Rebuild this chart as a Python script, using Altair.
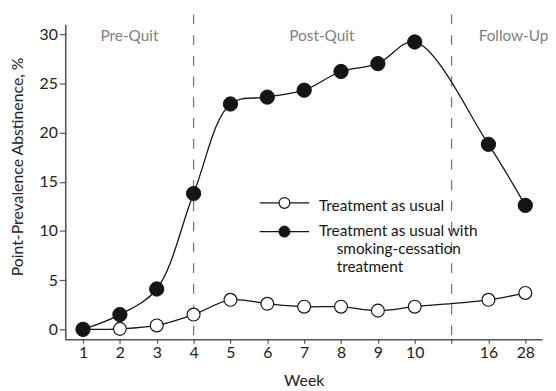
import json
import altair as alt
import pandas as pd

# ---------------- data ----------------
WEEKS = ["1", "2", "3", "4", "5", "6", "7", "8", "9", "10", "16", "28"]
TAU = [0.0, 0.05, 0.4, 1.5, 3.0, 2.6, 2.3, 2.3, 1.9, 2.3, 3.0, 3.7]
TAU_SCT = [0.0, 1.5, 4.1, 13.8, 22.9, 23.6, 24.3, 26.2, 27.0, 29.2, 18.8, 12.6]
SERIES = ["Treatment as usual",
          "Treatment as usual with smoking-cessation treatment"]
PHASES = ["Pre-Quit", "Post-Quit", "Follow-Up"]
PHASE_POS = [2.26, 7.48, 12.68]
PHASE_BREAKS = [4, 11]
Y_TICKS = [0, 5, 10, 15, 20, 25, 30]

# weekly slots 1-10, one empty slot for the phase break, then weeks 16 and 28
slots = [i + 1 if i < 10 else i + 2 for i in range(len(WEEKS))]
slot_labels = [""] * (max(slots) + 1)
for s, w in zip(slots, WEEKS):
    slot_labels[s] = w

rows = []
for name, vals in zip(SERIES, [TAU, TAU_SCT]):
    for s, w, v in zip(slots, WEEKS, vals):
        rows.append({"series": name, "slot": s, "week": w, "value": v})
df = pd.DataFrame(rows)

phase_df = pd.DataFrame({"phase": PHASES, "pos": PHASE_POS})
break_df = pd.DataFrame({"pos": PHASE_BREAKS})

FONT = "Lato"
INK = "#151515"

x_scale = alt.Scale(domain=[0.518, 13.455], nice=False, zero=False)
y_scale = alt.Scale(domain=[-1, 31], nice=False, zero=False)

x_axis = alt.Axis(
    values=list(range(1, 14)),
    labelExpr=json.dumps(slot_labels) + "[datum.value]",
    title="Week", titleY=47, titleBaseline="alphabetic",
    tickSize=4, labelPadding=2, grid=False,
    labelFlush=False, labelOverlap=False,
)
y_axis = alt.Axis(
    values=Y_TICKS, title="Point-Prevalence Abstinence, %",
    titleX=-43, titleY=144, titleAngle=-90, titleAlign="center",
    titleBaseline="alphabetic", tickSize=6, labelPadding=2, grid=False,
)

breaks = alt.Chart(break_df).mark_rule(
    color="#777777", strokeWidth=1.3, strokeDash=[10, 11], clip=False
).encode(
    x=alt.X("pos:Q", scale=x_scale, axis=x_axis),
    y=alt.Y(datum=32, scale=y_scale, axis=y_axis),
    y2=alt.Y2(datum=-1.4),
)

lines = alt.Chart(df).mark_line(
    interpolate="catmull-rom", color=INK, strokeWidth=1.3
).encode(
    x=alt.X("slot:Q", scale=x_scale, axis=x_axis),
    y=alt.Y("value:Q", scale=y_scale, axis=y_axis),
    detail="series:N",
)

points_open = alt.Chart(df[df.series == SERIES[0]]).mark_point(
    shape="circle", filled=True, fill="white", stroke=INK,
    strokeWidth=1.2, size=170, opacity=1
).encode(
    x=alt.X("slot:Q", scale=x_scale, axis=x_axis),
    y=alt.Y("value:Q", scale=y_scale, axis=y_axis),
)

points_filled = alt.Chart(df[df.series == SERIES[1]]).mark_point(
    shape="circle", filled=True, fill=INK, stroke=INK,
    strokeWidth=1, size=210, opacity=1
).encode(
    x=alt.X("slot:Q", scale=x_scale, axis=x_axis),
    y=alt.Y("value:Q", scale=y_scale, axis=y_axis),
)

phase_text = alt.Chart(phase_df).mark_text(
    font=FONT, fontSize=15.5, color="#808080", baseline="alphabetic",
    align="center"
).encode(
    x=alt.X("pos:Q", scale=x_scale, axis=x_axis),
    y=alt.Y(datum=29.25, scale=y_scale, axis=y_axis),
    text="phase:N",
)

# ---------------- hand-made legend ----------------
one = pd.DataFrame({"a": [0]})
words = SERIES[1].split(" ")
leg_first = " ".join(words[:4])
leg_rest = words[4:]

leg_layers = []
for i, (ly, fill, size, sw) in enumerate([(181, "white", 120, 1.2), (210, INK, 125, 1)]):
    leg_layers.append(
        alt.Chart(one).mark_rule(color=INK, strokeWidth=1.3).encode(
            x=alt.value(197), x2=alt.value(247), y=alt.value(ly))
    )
    leg_layers.append(
        alt.Chart(one).mark_point(shape="circle", filled=True, fill=fill,
                                  stroke=INK, strokeWidth=sw, size=size,
                                  opacity=1).encode(
            x=alt.value(222), y=alt.value(ly))
    )

leg_layers.append(
    alt.Chart(one).mark_text(font=FONT, fontSize=15.5, color=INK, align="left",
                             baseline="alphabetic", text=SERIES[0]).encode(
        x=alt.value(257), y=alt.value(189))
)
leg_layers.append(
    alt.Chart(one).mark_text(font=FONT, fontSize=15.5, color=INK, align="left",
                             baseline="alphabetic", text=leg_first).encode(
        x=alt.value(257), y=alt.value(214))
)
leg_layers.append(
    alt.Chart(one).mark_text(font=FONT, fontSize=15.5, color=INK, align="left",
                             baseline="alphabetic", text=leg_rest,
                             lineHeight=18).encode(
        x=alt.value(275), y=alt.value(233))
)

chart = alt.layer(
    breaks, lines, points_open, points_filled, phase_text, *leg_layers
).properties(
    width=483, height=319,
    background="white",
    autosize=alt.AutoSizeParams(type="none"),
    padding={"left": 58, "top": 14, "right": 6, "bottom": 50},
).configure_view(
    stroke=None
).configure_axis(
    domainColor="#555555", domainWidth=1.6, tickColor="#555555",
    tickWidth=1.2, labelFont=FONT, labelFontSize=16, labelColor="#222222",
    titleFont=FONT, titleFontSize=16, titleFontWeight="normal",
    titleColor="#222222",
)

chart.save("out.html", embed_options={"renderer": "svg", "actions": False})
